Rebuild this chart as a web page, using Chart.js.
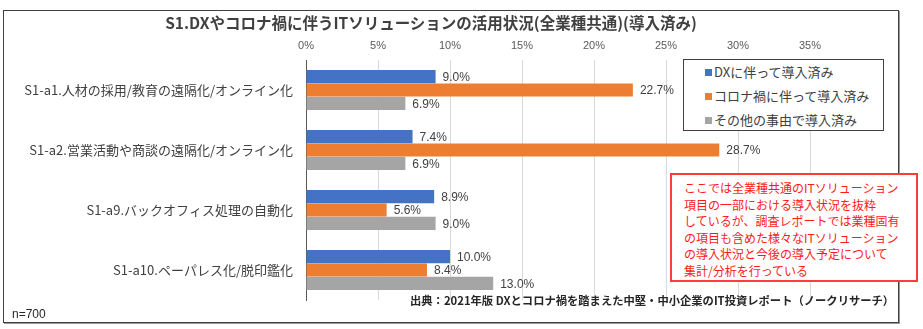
<!DOCTYPE html>
<html lang="ja">
<head>
<meta charset="utf-8">
<title>S1.DXやコロナ禍に伴うITソリューションの活用状況</title>
<script src="https://cdn.jsdelivr.net/npm/chart.js@4.4.1/dist/chart.umd.min.js"></script>
<style>
    body { margin: 0; background: #fff; }
    #wrap { position: relative; width: 923px; height: 329px; overflow: hidden; font-family: "Noto Sans CJK JP", sans-serif; }
    #wrap canvas { position: absolute; left: 0; top: 0; }
    .frame { position: absolute; left: 3px; top: 10px; width: 894px; height: 311px; border: 1px solid #404040; box-shadow: 1px 1px 0 #9a9a9a; }
    .titulo { position: absolute; left: 0; top: 11px; width: 862px; text-align: center; font-weight: bold; font-size: 15.5px; color: #404040; white-space: nowrap; }
    .legenda { position: absolute; left: 683px; top: 59px; width: 201px; height: 72px; box-sizing: border-box; border: 1px solid #404040; background: #fff; padding-top: 0px; }
    .legenda div { height: 24px; line-height: 24px; font-size: 13px; color: #404040; padding-left: 21px; white-space: nowrap; }
    .legenda span { display: inline-block; width: 7px; height: 7px; margin-right: 2px; vertical-align: 1px; }
    .nota { position: absolute; left: 670px; top: 173px; width: 248px; height: 109px; box-sizing: border-box; border: 2px solid #ff3b3b; background: #fff; color: #ff1a1a; font-size: 12px; line-height: 16.6px; padding: 5px 0 0 12px; white-space: nowrap; }
    .fonte { position: absolute; left: 410px; top: 292px; font-size: 11.3px; font-weight: bold; color: #262626; white-space: nowrap; }
    .amostra { position: absolute; left: 12px; top: 307px; font-size: 12px; color: #262626; font-family: "Liberation Sans", sans-serif; }
</style>
</head>
<body>
<div id="wrap">
    <canvas id="grafico" width="923" height="329"></canvas>
    <div class="frame"></div>
    <div class="titulo">S1.DXやコロナ禍に伴うITソリューションの活用状況(全業種共通)(導入済み)</div>
    <div class="legenda" id="legenda"></div>
    <div class="nota">ここでは全業種共通のITソリューション<br>項目の一部における導入状況を抜粋<br>しているが、調査レポートでは業種固有<br>の項目も含めた様々なITソリューション<br>の導入状況と今後の導入予定について<br>集計/分析を行っている</div>
    <div class="fonte">出典：2021年版 DXとコロナ禍を踏まえた中堅・中小企業のIT投資レポート（ノークリサーチ）</div>
    <div class="amostra">n=700</div>
</div>
<script>
// Dados do gráfico
const categorias = [
    'S1-a1.人材の採用/教育の遠隔化/オンライン化',
    'S1-a2.営業活動や商談の遠隔化/オンライン化',
    'S1-a9.バックオフィス処理の自動化',
    'S1-a10.ペーパレス化/脱印鑑化'
];
const series = ['DXに伴って導入済み', 'コロナ禍に伴って導入済み', 'その他の事由で導入済み'];
const valoresDX = [9.0, 7.4, 8.9, 10.0];
const valoresCorona = [22.7, 28.7, 5.6, 8.4];
const valoresOutros = [6.9, 6.9, 9.0, 13.0];
const ticksX = [0, 5, 10, 15, 20, 25, 30, 35];

const cores = ['#4472C4', '#ED7D31', '#A5A5A5'];
const fonteJP = '"Noto Sans CJK JP", sans-serif';

// Legenda em HTML
const legenda = document.getElementById('legenda');
series.forEach((nome, i) => {
    const linha = document.createElement('div');
    linha.innerHTML = `<span style="background:${cores[i]}"></span>${nome}`;
    legenda.appendChild(linha);
});

// Rótulos de valor ao lado das barras
const rotulosPlugin = {
    id: 'rotulos',
    afterDatasetsDraw(chart) {
        const ctx = chart.ctx;
        ctx.save();
        ctx.font = '12px "Liberation Sans", Arial, sans-serif';
        ctx.fillStyle = '#404040';
        ctx.textAlign = 'left';
        ctx.textBaseline = 'middle';
        chart.data.datasets.forEach((ds, i) => {
            chart.getDatasetMeta(i).data.forEach((bar, j) => {
                ctx.fillText(ds.data[j].toFixed(1) + '%', bar.x + 7, bar.y + 1);
            });
        });
        ctx.restore();
    }
};

const ctx = document.getElementById('grafico').getContext('2d');
new Chart(ctx, {
    type: 'bar',
    data: {
        labels: categorias,
        datasets: [
            { label: series[0], data: valoresDX, backgroundColor: cores[0] },
            { label: series[1], data: valoresCorona, backgroundColor: cores[1] },
            { label: series[2], data: valoresOutros, backgroundColor: cores[2] }
        ]
    },
    options: {
        indexAxis: 'y',
        responsive: false,
        animation: false,
        layout: { padding: { top: 0, left: 0, right: 113, bottom: 29 } },
        datasets: { bar: { categoryPercentage: 0.67, barPercentage: 0.98 } },
        plugins: {
            legend: { display: false },
            tooltip: { enabled: false }
        },
        scales: {
            x: {
                position: 'top',
                min: 0,
                max: 35,
                afterFit(scale) { scale.height = 60; },
                afterBuildTicks(scale) { scale.ticks = ticksX.map(v => ({ value: v })); },
                border: { display: false },
                grid: { color: '#d9d9d9', drawTicks: false },
                ticks: {
                    padding: 7,
                    color: '#595959',
                    font: { family: '"Liberation Sans Narrow", "Arial Narrow", "Liberation Sans", sans-serif', size: 11 },
                    callback: v => v + '%'
                }
            },
            y: {
                afterFit(scale) { scale.width = 306; },
                border: { display: true, color: '#595959', width: 1 },
                grid: { display: false, drawTicks: false },
                ticks: {
                    padding: 13,
                    color: '#404040',
                    font: { family: fonteJP, size: 13 }
                }
            }
        }
    },
    plugins: [rotulosPlugin]
});
</script>
</body>
</html>
